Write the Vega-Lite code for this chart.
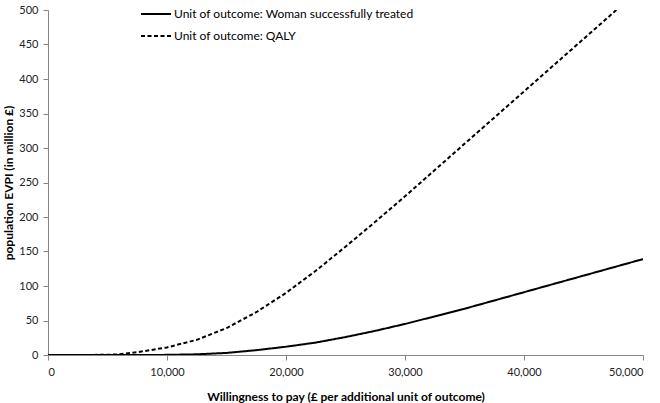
{
  "$schema": "https://vega.github.io/schema/vega-lite/v6.json",
  "width": 595,
  "height": 345,
  "autosize": {"type": "none"},
  "padding": {"left": 48, "top": 10, "right": 17, "bottom": 48},
  "background": "white",
  "config": {
    "view": {"stroke": null},
    "font": "Lato",
    "axis": {"grid": false, "domainColor": "#868686", "tickColor": "#868686", "labelColor": "#222222", "labelFontSize": 11, "titleFontSize": 12, "titleFontWeight": "bold", "titleColor": "#000000", "labelFont": "Lato", "titleFont": "Lato"}
  },
  "data": {"values": [
    {"wtp": 0, "value": 0, "series": "Unit of outcome: Woman successfully treated"},
    {"wtp": 2500, "value": 0, "series": "Unit of outcome: Woman successfully treated"},
    {"wtp": 5000, "value": 0, "series": "Unit of outcome: Woman successfully treated"},
    {"wtp": 7500, "value": 0, "series": "Unit of outcome: Woman successfully treated"},
    {"wtp": 10000, "value": 0.2, "series": "Unit of outcome: Woman successfully treated"},
    {"wtp": 12500, "value": 1, "series": "Unit of outcome: Woman successfully treated"},
    {"wtp": 15000, "value": 3, "series": "Unit of outcome: Woman successfully treated"},
    {"wtp": 17500, "value": 7, "series": "Unit of outcome: Woman successfully treated"},
    {"wtp": 20000, "value": 12, "series": "Unit of outcome: Woman successfully treated"},
    {"wtp": 22500, "value": 18, "series": "Unit of outcome: Woman successfully treated"},
    {"wtp": 25000, "value": 26, "series": "Unit of outcome: Woman successfully treated"},
    {"wtp": 27500, "value": 35, "series": "Unit of outcome: Woman successfully treated"},
    {"wtp": 30000, "value": 45, "series": "Unit of outcome: Woman successfully treated"},
    {"wtp": 32500, "value": 56, "series": "Unit of outcome: Woman successfully treated"},
    {"wtp": 35000, "value": 67, "series": "Unit of outcome: Woman successfully treated"},
    {"wtp": 37500, "value": 79, "series": "Unit of outcome: Woman successfully treated"},
    {"wtp": 40000, "value": 91, "series": "Unit of outcome: Woman successfully treated"},
    {"wtp": 42500, "value": 103, "series": "Unit of outcome: Woman successfully treated"},
    {"wtp": 45000, "value": 115, "series": "Unit of outcome: Woman successfully treated"},
    {"wtp": 47500, "value": 127, "series": "Unit of outcome: Woman successfully treated"},
    {"wtp": 50000, "value": 139, "series": "Unit of outcome: Woman successfully treated"},
    {"wtp": 0, "value": 0, "series": "Unit of outcome: QALY"},
    {"wtp": 2500, "value": 0, "series": "Unit of outcome: QALY"},
    {"wtp": 5000, "value": 0.3, "series": "Unit of outcome: QALY"},
    {"wtp": 6000, "value": 1, "series": "Unit of outcome: QALY"},
    {"wtp": 7500, "value": 4, "series": "Unit of outcome: QALY"},
    {"wtp": 10000, "value": 11, "series": "Unit of outcome: QALY"},
    {"wtp": 12500, "value": 22, "series": "Unit of outcome: QALY"},
    {"wtp": 15000, "value": 39, "series": "Unit of outcome: QALY"},
    {"wtp": 17500, "value": 62, "series": "Unit of outcome: QALY"},
    {"wtp": 20000, "value": 90, "series": "Unit of outcome: QALY"},
    {"wtp": 22500, "value": 122, "series": "Unit of outcome: QALY"},
    {"wtp": 25000, "value": 157, "series": "Unit of outcome: QALY"},
    {"wtp": 27500, "value": 193, "series": "Unit of outcome: QALY"},
    {"wtp": 30000, "value": 230, "series": "Unit of outcome: QALY"},
    {"wtp": 32500, "value": 268, "series": "Unit of outcome: QALY"},
    {"wtp": 35000, "value": 306, "series": "Unit of outcome: QALY"},
    {"wtp": 37500, "value": 344, "series": "Unit of outcome: QALY"},
    {"wtp": 40000, "value": 382, "series": "Unit of outcome: QALY"},
    {"wtp": 42500, "value": 420, "series": "Unit of outcome: QALY"},
    {"wtp": 45000, "value": 458, "series": "Unit of outcome: QALY"},
    {"wtp": 47500, "value": 496, "series": "Unit of outcome: QALY"},
    {"wtp": 48000, "value": 504, "series": "Unit of outcome: QALY"}
  ]},
  "mark": {"type": "line", "color": "black", "strokeWidth": 2, "clip": true},
  "encoding": {
    "x": {"field": "wtp", "type": "quantitative", "scale": {"domain": [0, 50000], "nice": false},
      "axis": {"values": [0, 10000, 20000, 30000, 40000, 50000], "format": ",.0f", "title": "Willingness to pay (£ per additional unit of outcome)", "titlePadding": 14, "labelPadding": 6, "tickSize": 5}},
    "y": {"field": "value", "type": "quantitative", "scale": {"domain": [0, 500], "nice": false},
      "axis": {"values": [0, 50, 100, 150, 200, 250, 300, 350, 400, 450, 500], "title": "population EVPI (in million £)", "titlePadding": 3, "labelPadding": 5, "tickSize": 5}},
    "strokeDash": {"field": "series", "type": "nominal",
      "scale": {"domain": ["Unit of outcome: Woman successfully treated", "Unit of outcome: QALY"], "range": [[1, 0], [4, 2.5]]},
      "legend": {"title": null, "orient": "none", "legendX": 92, "legendY": -12, "symbolType": "stroke", "symbolSize": 900, "symbolStrokeWidth": 2, "symbolStrokeColor": "black", "labelFontSize": 12, "labelColor": "#000000", "labelOffset": 2, "labelLimit": 400, "rowPadding": -2, "labelFont": "Lato"}}
  }
}
